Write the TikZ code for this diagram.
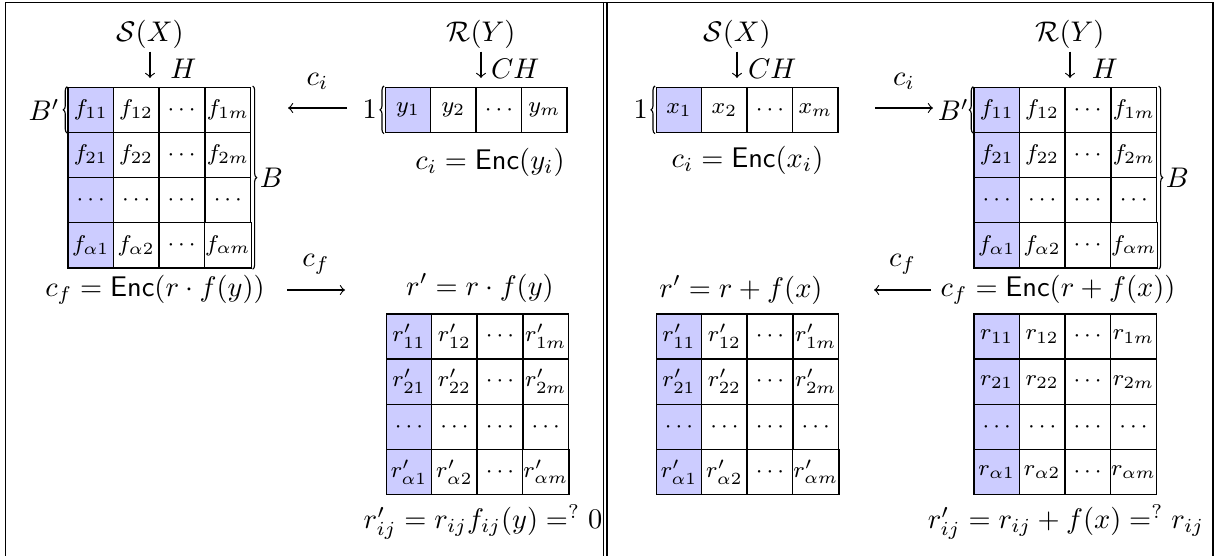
\documentclass[tikz,border=0pt]{standalone}
\usepackage{amsmath}
\usepackage{amssymb}
\usetikzlibrary{matrix,decorations.pathreplacing,positioning}

\begin{document}
\begin{tikzpicture}[x=0.3521pt,y=-0.3521pt,>=to,
  tab/.style={matrix of math nodes,anchor=north west,inner sep=0pt,column sep=-0.5pt,row sep=-0.5pt,
    nodes={draw,line width=0.5pt,anchor=center,font=\footnotesize,minimum width=16pt,minimum height=15.9pt,inner sep=0.3pt},
    column 1/.style={nodes={fill=blue!20}}},
  brc/.style={decorate,decoration={brace,amplitude=1.4pt}},
  lbl/.style={inner sep=1pt}]
\useasboundingbox (0,0) rectangle (1217,556);
% frame
\draw[line width=0.6pt] (5.5,556) -- (5.5,2.5) -- (1213,2.5) -- (1213,556);
\draw[line width=0.6pt] (603.5,2.5) -- (603.5,556) (607,2.5) -- (607,556);

% left half
\node[lbl] (SX1) at (150,34) {$\mathcal{S}(X)$};
\matrix (F1) [tab] at (66.7,86) {
 f_{11} & f_{12} & \cdots & f_{1m}\\
 f_{21} & f_{22} & \cdots & f_{2m}\\
 \cdots & \cdots & \cdots & \cdots\\
 f_{\alpha1} & f_{\alpha2} & \cdots & f_{\alpha m}\\};
\draw[->,shorten >=2.8pt] (SX1) -- node[right=3.6pt]{$H$} (SX1 |- F1.north);
\draw[brc] (F1-1-1.south west) -- node[left=1.5pt,lbl]{$B'$} (F1-1-1.north west);
\draw[brc] (F1.north east) -- node[right=1.3pt,lbl]{$B$} (F1.south east);
\node (cf1) at (155,290) {$c_f = \mathsf{Enc}(r\cdot f(y))$};

\node[lbl] (RY1) at (481,34) {$\mathcal{R}(Y)$};
\matrix (Y1) [tab] at (384,86) {y_1 & y_2 & \cdots & y_m\\};
\draw[->,shorten >=2.8pt] (RY1) -- node[right=0pt]{$CH$} (RY1 |- Y1.north);
\draw[brc] (Y1.south west) -- node[left=1.3pt,lbl]{$1$} (Y1.north west);
\node (ci1) at (490,162) {$c_i = \mathsf{Enc}(y_i)$};

\coordinate (a1) at (347,108); \coordinate (b1) at (288,108);
\draw[->] (a1) -- node[above=3pt]{$c_i$} (b1);
\coordinate (a2) at (287,290); \coordinate (b2) at (345,290);
\draw[->] (a2) -- node[above=2pt]{$c_f$} (b2);

\node (rp1) at (480,288) {$r' = r\cdot f(y)$};
\matrix (R1) [tab] at (385,312.7) {
 r'_{11} & r'_{12} & \cdots & r'_{1m}\\
 r'_{21} & r'_{22} & \cdots & r'_{2m}\\
 \cdots & \cdots & \cdots & \cdots\\
 r'_{\alpha1} & r'_{\alpha2} & \cdots & r'_{\alpha m}\\};
\node (chk1) at (483,522) {$r'_{ij} = r_{ij}f_{ij}(y) =^{?} 0$};

% right half
\node[lbl] (SX2) at (737,34) {$\mathcal{S}(X)$};
\matrix (X2) [tab] at (655,86) {x_1 & x_2 & \cdots & x_m\\};
\draw[->,shorten >=2.8pt] (SX2) -- node[right=0.4pt]{$CH$} (SX2 |- X2.north);
\draw[brc] (X2.south west) -- node[left=1.3pt,lbl]{$1$} (X2.north west);
\node (ci2) at (747.5,160) {$c_i = \mathsf{Enc}(x_i)$};

\node[lbl] (RY2) at (1070,34) {$\mathcal{R}(Y)$};
\matrix (F2) [tab] at (972.7,86) {
 f_{11} & f_{12} & \cdots & f_{1m}\\
 f_{21} & f_{22} & \cdots & f_{2m}\\
 \cdots & \cdots & \cdots & \cdots\\
 f_{\alpha1} & f_{\alpha2} & \cdots & f_{\alpha m}\\};
\draw[->,shorten >=2.8pt] (RY2) -- node[right=4.2pt]{$H$} (RY2 |- F2.north);
\draw[brc] (F2-1-1.south west) -- node[left=0.4pt,lbl]{$B'$} (F2-1-1.north west);
\draw[brc] (F2.north east) -- node[right=1.3pt,lbl]{$B$} (F2.south east);

\coordinate (a3) at (875,108); \coordinate (b3) at (933,108);
\draw[->] (a3) -- node[above=3pt]{$c_i$} (b3);
\coordinate (a4) at (931,290); \coordinate (b4) at (874,290);
\draw[->] (a4) -- node[above=2pt]{$c_f$} (b4);

\node (rp2) at (741,290) {$r' = r + f(x)$};
\matrix (R2p) [tab] at (655,312.7) {
 r'_{11} & r'_{12} & \cdots & r'_{1m}\\
 r'_{21} & r'_{22} & \cdots & r'_{2m}\\
 \cdots & \cdots & \cdots & \cdots\\
 r'_{\alpha1} & r'_{\alpha2} & \cdots & r'_{\alpha m}\\};
\node (cf2) at (1058,290) {$c_f = \mathsf{Enc}(r + f(x))$};
\matrix (R2) [tab] at (972.7,312.7) {
 r_{11} & r_{12} & \cdots & r_{1m}\\
 r_{21} & r_{22} & \cdots & r_{2m}\\
 \cdots & \cdots & \cdots & \cdots\\
 r_{\alpha1} & r_{\alpha2} & \cdots & r_{\alpha m}\\};
\node (chk2) at (1066,522) {$r'_{ij} = r_{ij} + f(x) =^{?} r_{ij}$};
\end{tikzpicture}
\end{document}
